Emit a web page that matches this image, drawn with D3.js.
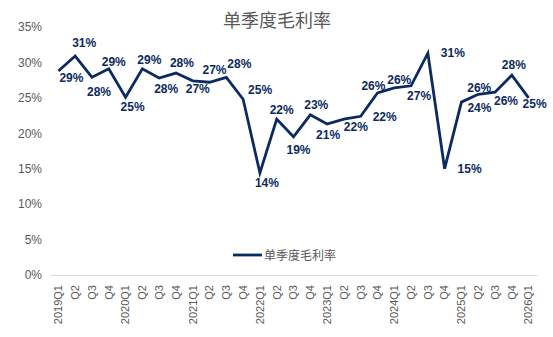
<!DOCTYPE html>
<html><head><meta charset="utf-8">
<script src="https://cdn.jsdelivr.net/npm/d3@7/dist/d3.min.js"></script>
<style>body{margin:0;background:#fff}svg{display:block}</style>
</head><body><svg id="c" width="553" height="337"></svg>
<script>
const categories = ["2019Q1","Q2","Q3","Q4","2020Q1","Q2","Q3","Q4","2021Q1","Q2","Q3","Q4","2022Q1","Q2","Q3","Q4","2023Q1","Q2","Q3","Q4","2024Q1","Q2","Q3","Q4","2025Q1","Q2","Q3","Q4","2026Q1"];
const grossMargin = [28.8,30.9,27.9,29.1,25.1,29.1,27.8,28.5,27.4,27.2,27.9,24.8,14.4,22.0,19.5,22.6,21.3,22.0,22.4,25.7,26.4,26.7,31.3,15.0,24.4,25.5,25.8,28.2,25.0];
const dataLabels = ["29%","31%","28%","29%","25%","29%","28%","28%","27%","27%","28%","25%","14%","22%","19%","23%","21%","22%","22%","26%","26%","27%","31%","15%","24%","26%","26%","28%","25%"];
const labelDx = [13,9,7,5,7,7,7,6,5,5,13,17,7,5,5,6,1,12,24,-4,5,8,25,25,18,1,11,2,6];
const labelDy = [7,-13,14,-7,10,-9,11,-10,8,-12,-14,-9,10,-9,13,-10,11,8,1,-7,-8,10,0,0,6,-7,9,-10,6];
const yTicks = [0,5,10,15,20,25,30,35];
const seriesName = "单季度毛利率";
const title = "单季度毛利率";

const svg = d3.select("#c");
const x = d3.scaleBand().domain(d3.range(categories.length)).range([50,537]);
const y = d3.scaleLinear().domain([0,35]).range([275,27]);
const font = "'Liberation Sans', Arial, sans-serif";
const grey = "#595959";
const navy = "#0c2a62";

svg.append("text").attr("x",277).attr("y",27).attr("text-anchor","middle")
  .attr("font-family","'Noto Sans CJK SC', sans-serif").attr("font-size",18).attr("fill",grey).text(title);

// y axis labels
const ya = svg.append("g").attr("transform","translate(42,0)")
  .call(d3.axisLeft(y).tickValues(yTicks).tickSize(0).tickPadding(0).tickFormat(d=>d+"%"));
ya.select(".domain").remove();
ya.selectAll("text").attr("font-family",font).attr("font-size",12).attr("fill",grey);

// x axis
const xa = svg.append("g").attr("transform","translate(0,275)")
  .call(d3.axisBottom(x).tickSize(0).tickFormat(i=>categories[i]));
xa.select(".domain").attr("stroke","#d9d9d9").attr("stroke-width",1);
xa.selectAll("text").attr("font-family",font).attr("font-size",11).attr("fill",grey)
  .attr("transform","rotate(-90)").attr("text-anchor","end").attr("x",-10).attr("y",0).attr("dy","0.35em");

const cx = i => x(i)+x.bandwidth()/2;
svg.append("path").datum(grossMargin)
  .attr("d", d3.line().x((d,i)=>cx(i)).y(d=>y(d)))
  .attr("fill","none").attr("stroke",navy).attr("stroke-width",2.8).attr("stroke-linejoin","miter");

svg.append("g").selectAll("text").data(grossMargin).join("text")
  .attr("x",(d,i)=>cx(i)+labelDx[i]).attr("y",(d,i)=>y(d)+labelDy[i])
  .attr("dy","0.35em").attr("text-anchor","middle")
  .attr("font-family",font).attr("font-size",12).attr("font-weight","bold").attr("fill",navy)
  .text((d,i)=>dataLabels[i]);

// legend
svg.append("line").attr("x1",233).attr("x2",262).attr("y1",255).attr("y2",255)
  .attr("stroke",navy).attr("stroke-width",2.8);
svg.append("text").attr("x",264).attr("y",259.5)
  .attr("font-family","'Noto Sans CJK SC', sans-serif").attr("font-size",12).attr("fill",grey).text(seriesName);
</script></body></html>
